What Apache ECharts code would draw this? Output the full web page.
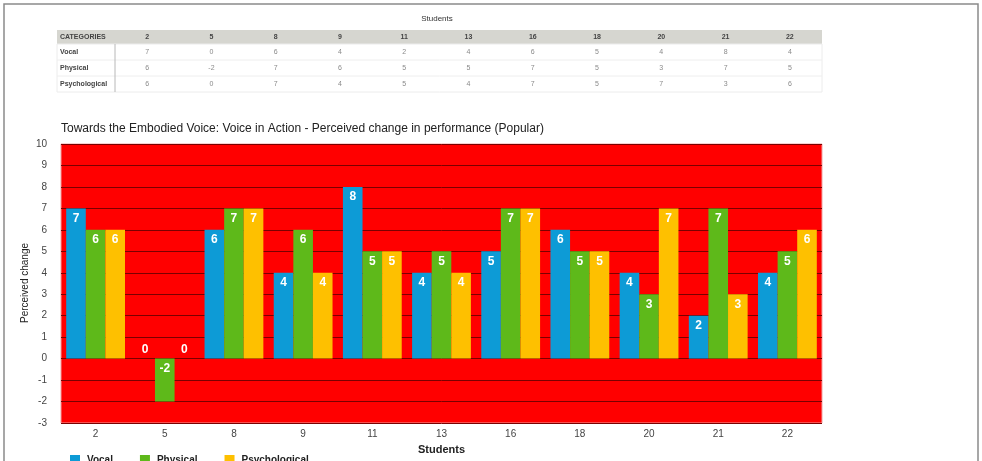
<!DOCTYPE html>
<html>
<head>
<meta charset="utf-8">
<script src="https://cdn.jsdelivr.net/npm/echarts@6/dist/echarts.min.js"></script>
<style>
  html, body { margin: 0; padding: 0; background: #fff; }
  #chart { width: 982px; height: 461px; }
</style>
</head>
<body>
<div id="chart"></div>
<script>
// Chart data
const students = ['2', '5', '8', '9', '11', '13', '16', '18', '20', '21', '22'];
const vocal = [7, 0, 6, 4, 8, 4, 5, 6, 4, 2, 4];
const physical = [6, -2, 7, 6, 5, 5, 7, 5, 3, 7, 5];
const psychological = [6, 0, 7, 4, 5, 4, 7, 5, 7, 3, 6];

// Summary table printed above the chart
const tableTitle = 'Students';
const tableHeader = ['2', '5', '8', '9', '11', '13', '16', '18', '20', '21', '22'];
const tableRowNames = ['Vocal', 'Physical', 'Psychological'];
const tableVocal = ['7', '0', '6', '4', '2', '4', '6', '5', '4', '8', '4'];
const tablePhysical = ['6', '-2', '7', '6', '5', '5', '7', '5', '3', '7', '5'];
const tablePsychological = ['6', '0', '7', '4', '5', '4', '7', '5', '7', '3', '6'];

const FONT = '"Liberation Sans", Arial, Helvetica, sans-serif';
const COLORS = { vocal: '#0d9bd6', physical: '#5eb91a', psychological: '#fec000' };

// ---- table graphics ----
const tbl = { left: 57, right: 822, top: 30, headH: 14, rowH: 16, firstCol: 58 };
const colW = (tbl.right - tbl.left - tbl.firstCol) / tableHeader.length;
const graphics = [];

// outer frame
graphics.push({ type: 'rect', shape: { x: 4, y: 4, width: 974, height: 470 },
  style: { fill: 'none', stroke: '#8a8a8a', lineWidth: 1.5 }, silent: true });

graphics.push({ type: 'text', x: 437, y: 19,
  style: { text: tableTitle, font: '8px ' + FONT, fill: '#333', align: 'center', verticalAlign: 'middle' } });

graphics.push({ type: 'rect', shape: { x: tbl.left, y: tbl.top, width: tbl.right - tbl.left, height: tbl.headH },
  style: { fill: '#d6d6d0' } });
graphics.push({ type: 'rect', shape: { x: tbl.left, y: tbl.top + tbl.headH, width: tbl.right - tbl.left, height: tbl.rowH * 3 },
  style: { fill: '#fff', stroke: '#ececec', lineWidth: 1 } });
graphics.push({ type: 'text', x: tbl.left + 3, y: tbl.top + tbl.headH / 2,
  style: { text: 'CATEGORIES', font: 'bold 7px ' + FONT, fill: '#444', verticalAlign: 'middle' } });
tableHeader.forEach((h, i) => {
  graphics.push({ type: 'text', x: tbl.left + tbl.firstCol + colW * (i + 0.5), y: tbl.top + tbl.headH / 2,
    style: { text: h, font: 'bold 7px ' + FONT, fill: '#444', align: 'center', verticalAlign: 'middle' } });
});
const tableRows = [tableVocal, tablePhysical, tablePsychological];
tableRows.forEach((row, r) => {
  const cy = tbl.top + tbl.headH + tbl.rowH * (r + 0.5);
  if (r > 0) {
    graphics.push({ type: 'line', shape: { x1: tbl.left, y1: tbl.top + tbl.headH + tbl.rowH * r, x2: tbl.right, y2: tbl.top + tbl.headH + tbl.rowH * r },
      style: { stroke: '#eeeeee', lineWidth: 1 } });
  }
  graphics.push({ type: 'text', x: tbl.left + 3, y: cy,
    style: { text: tableRowNames[r], font: 'bold 7px ' + FONT, fill: '#444', verticalAlign: 'middle' } });
  row.forEach((v, i) => {
    graphics.push({ type: 'text', x: tbl.left + tbl.firstCol + colW * (i + 0.5), y: cy,
      style: { text: v, font: '7px ' + FONT, fill: '#8a8a8a', align: 'center', verticalAlign: 'middle' } });
  });
});
graphics.push({ type: 'line', shape: { x1: tbl.left + tbl.firstCol, y1: tbl.top + tbl.headH, x2: tbl.left + tbl.firstCol, y2: tbl.top + tbl.headH + tbl.rowH * 3 },
  style: { stroke: '#b8b8b8', lineWidth: 1 } });

// value-axis title, rotated along the left side of the plot
graphics.push({ type: 'text', x: 25, y: 283, rotation: Math.PI / 2,
  style: { text: 'Perceived change', font: '10px ' + FONT, fill: '#222', align: 'center', verticalAlign: 'middle' } });

// ---- bar series ----
function barData(values) {
  return values.map(v => ({
    value: v,
    label: { position: v === 0 ? 'top' : 'insideTop', distance: v === 0 ? 3 : 4 }
  }));
}
function barSeries(name, values, color) {
  return {
    name, type: 'bar', data: barData(values),
    itemStyle: { color },
    barGap: '0%', barCategoryGap: '15%',
    label: { show: true, color: '#fff', fontWeight: 'bold', fontSize: 12, fontFamily: FONT },
    emphasis: { disabled: true },
    z: 3
  };
}

const chart = echarts.init(document.getElementById('chart'), null, { renderer: 'canvas' });
chart.setOption({
  animation: false,
  textStyle: { fontFamily: FONT },
  title: {
    text: 'Towards the Embodied Voice: Voice in Action - Perceived change in performance (Popular)',
    left: 56, top: 118,
    textStyle: { fontSize: 12, fontWeight: 'normal', color: '#222', fontFamily: FONT }
  },
  legend: {
    left: 65, top: 450,
    icon: 'rect', itemWidth: 10, itemHeight: 10, itemGap: 27,
    textStyle: { fontSize: 10, fontWeight: 'bold', color: '#222', fontFamily: FONT, padding: [0, 0, 0, 2] },
    data: ['Vocal', 'Physical', 'Psychological']
  },
  grid: { left: 61, right: 160, top: 144, bottom: 38, show: true, backgroundColor: '#ff0000', borderColor: '#f3a0a0', borderWidth: 1 },
  xAxis: {
    type: 'category', data: students,
    name: 'Students', nameLocation: 'middle', nameGap: 21,
    nameTextStyle: { fontSize: 11, fontWeight: 'bold', color: '#222' },
    axisLine: { show: false }, axisTick: { show: false },
    axisLabel: { fontSize: 10, color: '#444', margin: 6 }
  },
  yAxis: {
    type: 'value', min: -3, max: 10, interval: 1,
    axisLine: { show: false }, axisTick: { show: false },
    axisLabel: { fontSize: 10, color: '#444', margin: 14 },
    splitLine: { show: true, lineStyle: { color: '#7a0000', width: 1 } }
  },
  series: [
    barSeries('Vocal', vocal, COLORS.vocal),
    barSeries('Physical', physical, COLORS.physical),
    barSeries('Psychological', psychological, COLORS.psychological)
  ],
  graphic: graphics
});
</script>
</body>
</html>
